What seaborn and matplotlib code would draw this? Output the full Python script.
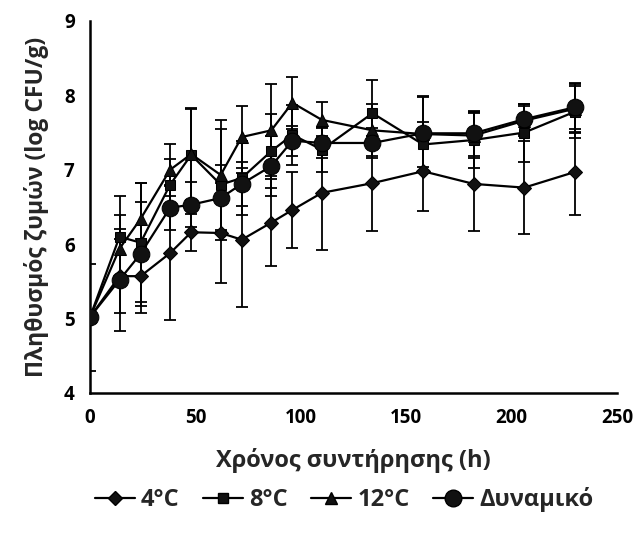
import numpy as np
import pandas as pd
import matplotlib
matplotlib.use("Agg")
import matplotlib.pyplot as plt
import seaborn as sns
from matplotlib.lines import Line2D

sns.set_style("white")
plt.rcParams['font.family'] = ['Open Sans', 'DejaVu Sans']
plt.rcParams['font.weight'] = 'bold'

time_h = [0, 14, 24, 38, 48, 62, 72, 86, 96, 110, 134, 158, 182, 206, 230]
series_names = ["4°C", "8°C", "12°C", "Δυναμικό"]

t4 = [5.02, 5.57, 5.57, 5.88, 6.16, 6.15, 6.06, 6.29, 6.46, 6.69, 6.82, 6.98, 6.81, 6.76, 6.97]
t4_err = [0.0, 0.50, 0.50, 0.90, 0.25, 0.67, 0.90, 0.58, 0.51, 0.77, 0.64, 0.53, 0.63, 0.62, 0.58]

t8 = [5.02, 6.10, 6.02, 6.80, 7.20, 6.80, 6.89, 7.25, 7.47, 7.27, 7.76, 7.34, 7.40, 7.50, 7.78]
t8_err = [0.0, 0.55, 0.80, 0.35, 0.62, 0.75, 0.50, 0.50, 0.40, 0.30, 0.45, 0.30, 0.38, 0.39, 0.35]

t12 = [5.02, 5.94, 6.34, 7.00, 7.21, 6.93, 7.44, 7.53, 7.90, 7.67, 7.53, 7.48, 7.46, 7.66, 7.82]
t12_err = [0.0, 0.45, 0.48, 0.35, 0.62, 0.74, 0.42, 0.62, 0.35, 0.24, 0.35, 0.50, 0.30, 0.20, 0.33]

dyn = [5.02, 5.52, 5.87, 6.49, 6.53, 6.62, 6.81, 7.05, 7.39, 7.36, 7.36, 7.49, 7.49, 7.68, 7.84]
dyn_err = [0.72, 0.69, 0.70, 0.30, 0.30, 0.45, 0.30, 0.40, 0.20, 0.20, 0.20, 0.50, 0.30, 0.20, 0.33]

values = [t4, t8, t12, dyn]
errors = [t4_err, t8_err, t12_err, dyn_err]
markers = ["D", "s", "^", "o"]
msizes = [7, 7.5, 8, 12]

fig = plt.figure(figsize=(6.37, 5.33), dpi=100)
ax = fig.add_axes([0.1413, 0.2627, 0.8273, 0.698])

rows = []
for name, vals in zip(series_names, values):
    for t, v in zip(time_h, vals):
        rows.append({"t": t, "v": v, "series": name})
df = pd.DataFrame(rows)

for name, vals, errs, mk, ms in zip(series_names, values, errors, markers, msizes):
    ax.errorbar(time_h, vals, yerr=errs, fmt="none", ecolor="black",
                elinewidth=1.3, capsize=4, capthick=1.3, zorder=2)
    sub = df[df["series"] == name]
    sns.lineplot(data=sub, x="t", y="v", ax=ax, color="black", linewidth=1.6,
                 marker=mk, markersize=ms, markerfacecolor="#111111",
                 markeredgecolor="black", zorder=3, legend=False)

ax.set_xlim(0, 250)
ax.set_ylim(4, 9)
ax.set_xticks([0, 50, 100, 150, 200, 250])
ax.set_yticks([4, 5, 6, 7, 8, 9])
for s in ["top", "right"]:
    ax.spines[s].set_visible(False)
for s in ["left", "bottom"]:
    ax.spines[s].set_linewidth(1.8)
    ax.spines[s].set_color("black")
ax.tick_params(axis="both", direction="out", length=5, width=1.5, labelsize=13.5, colors="black", pad=6)
for lab in ax.get_xticklabels() + ax.get_yticklabels():
    lab.set_fontweight("bold")

ax.set_xlabel("Χρόνος συντήρησης (h)", fontsize=17, fontweight="bold", labelpad=14)
ax.set_ylabel("Πληθυσμός ζυμών (log CFU/g)", fontsize=16.5, fontweight="bold", labelpad=11)

handles = [Line2D([0], [0], color="black", linewidth=1.6, marker=mk, markersize=ms,
                  markerfacecolor="#111111", markeredgecolor="black")
           for mk, ms in zip(markers, msizes)]
leg = fig.legend(handles, series_names, loc="center", bbox_to_anchor=(0.54, 0.062),
                 ncol=4, frameon=False, handlelength=1.7, handletextpad=0.25,
                 columnspacing=1.0, prop={"size": 17, "weight": "bold"})

fig.savefig("out.png", dpi=100)
